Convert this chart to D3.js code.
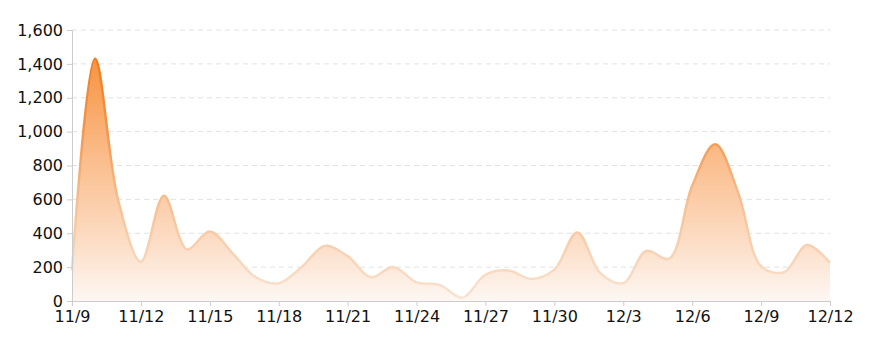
<!DOCTYPE html>
<html lang="en">
<head>
<meta charset="UTF-8">
<title>Daily chart</title>
<script src="https://d3js.org/d3.v7.min.js"></script>
<style>
  body { margin: 0; background: #fff; }
  .axis text { font-family: "DejaVu Sans", sans-serif; font-size: 16px; fill: #111; }
  .axis path, .axis line { stroke: #ccc; }
  .grid line { stroke: #e2e2e2; stroke-dasharray: 5 4; }
</style>
</head>
<body>
<div id="chart"></div>
<script>
// days shown on the x axis
var days = ["11/9","11/10","11/11","11/12","11/13","11/14","11/15","11/16","11/17","11/18",
  "11/19","11/20","11/21","11/22","11/23","11/24","11/25","11/26","11/27","11/28","11/29",
  "11/30","12/1","12/2","12/3","12/4","12/5","12/6","12/7","12/8","12/9","12/10","12/11","12/12"];
// daily values
var counts = [180, 1430, 600, 232, 622, 305, 410, 280, 140, 105,
  200, 325, 265, 140, 200, 110, 95, 20, 155, 180, 130,
  185, 405, 165, 105, 295, 250, 680, 925, 640, 205, 170, 330, 225];
// labels every third day
var dayTicks = ["11/9","11/12","11/15","11/18","11/21","11/24","11/27","11/30","12/3","12/6","12/9","12/12"];
var valueTicks = [0, 200, 400, 600, 800, 1000, 1200, 1400, 1600];

var width = 875, height = 350;
var margin = {top: 30, right: 45, bottom: 49, left: 72};

var data = days.map(function(d, i){ return {day: d, value: counts[i]}; });

var x = d3.scalePoint()
  .domain(days)
  .range([margin.left, width - margin.right]);

var y = d3.scaleLinear()
  .domain([0, 1600])
  .range([height - margin.bottom, margin.top]);

var svg = d3.select("#chart").append("svg")
  .attr("width", width)
  .attr("height", height);

var defs = svg.append("defs");

// fill fades from orange at the top to almost white at the bottom
var fillGrad = defs.append("linearGradient")
  .attr("id", "fillGrad")
  .attr("gradientUnits", "userSpaceOnUse")
  .attr("x1", 0).attr("x2", 0)
  .attr("y1", y(1450)).attr("y2", y(0));
fillGrad.append("stop").attr("offset", "0%").attr("stop-color", "#f79240");
fillGrad.append("stop").attr("offset", "40%").attr("stop-color", "#fabb88");
fillGrad.append("stop").attr("offset", "75%").attr("stop-color", "#fcdcc4");
fillGrad.append("stop").attr("offset", "100%").attr("stop-color", "#fdf7f3");

// the line also gets lighter as the value drops
var lineGrad = defs.append("linearGradient")
  .attr("id", "lineGrad")
  .attr("gradientUnits", "userSpaceOnUse")
  .attr("x1", 0).attr("x2", 0)
  .attr("y1", y(1450)).attr("y2", y(0));
lineGrad.append("stop").attr("offset", "0%").attr("stop-color", "#f07a1c");
lineGrad.append("stop").attr("offset", "35%").attr("stop-color", "#f49a55");
lineGrad.append("stop").attr("offset", "60%").attr("stop-color", "#f6c092");
lineGrad.append("stop").attr("offset", "100%").attr("stop-color", "#f9e4d4");

// dashed grid
svg.append("g")
  .attr("class", "grid")
  .selectAll("line")
  .data(valueTicks.slice(1))
  .enter().append("line")
  .attr("x1", margin.left)
  .attr("x2", width - margin.right)
  .attr("y1", function(d){ return y(d); })
  .attr("y2", function(d){ return y(d); });

var curve = d3.curveCatmullRom.alpha(0.5);

var area = d3.area()
  .x(function(d){ return x(d.day); })
  .y0(y(0))
  .y1(function(d){ return y(d.value); })
  .curve(curve);

var line = d3.line()
  .x(function(d){ return x(d.day); })
  .y(function(d){ return y(d.value); })
  .curve(curve);

svg.append("path")
  .datum(data)
  .attr("d", area)
  .attr("fill", "url(#fillGrad)");

svg.append("path")
  .datum(data)
  .attr("d", line)
  .attr("fill", "none")
  .attr("stroke", "url(#lineGrad)")
  .attr("stroke-width", 2.5);

// axes on top
svg.append("g")
  .attr("class", "axis")
  .attr("transform", "translate(" + margin.left + ",0)")
  .call(d3.axisLeft(y).tickValues(valueTicks).tickSize(5).tickPadding(4).tickFormat(d3.format(",")));

svg.append("g")
  .attr("class", "axis")
  .attr("transform", "translate(0," + y(0) + ")")
  .call(d3.axisBottom(x).tickValues(dayTicks).tickSize(5).tickPadding(5));
</script>
</body>
</html>
